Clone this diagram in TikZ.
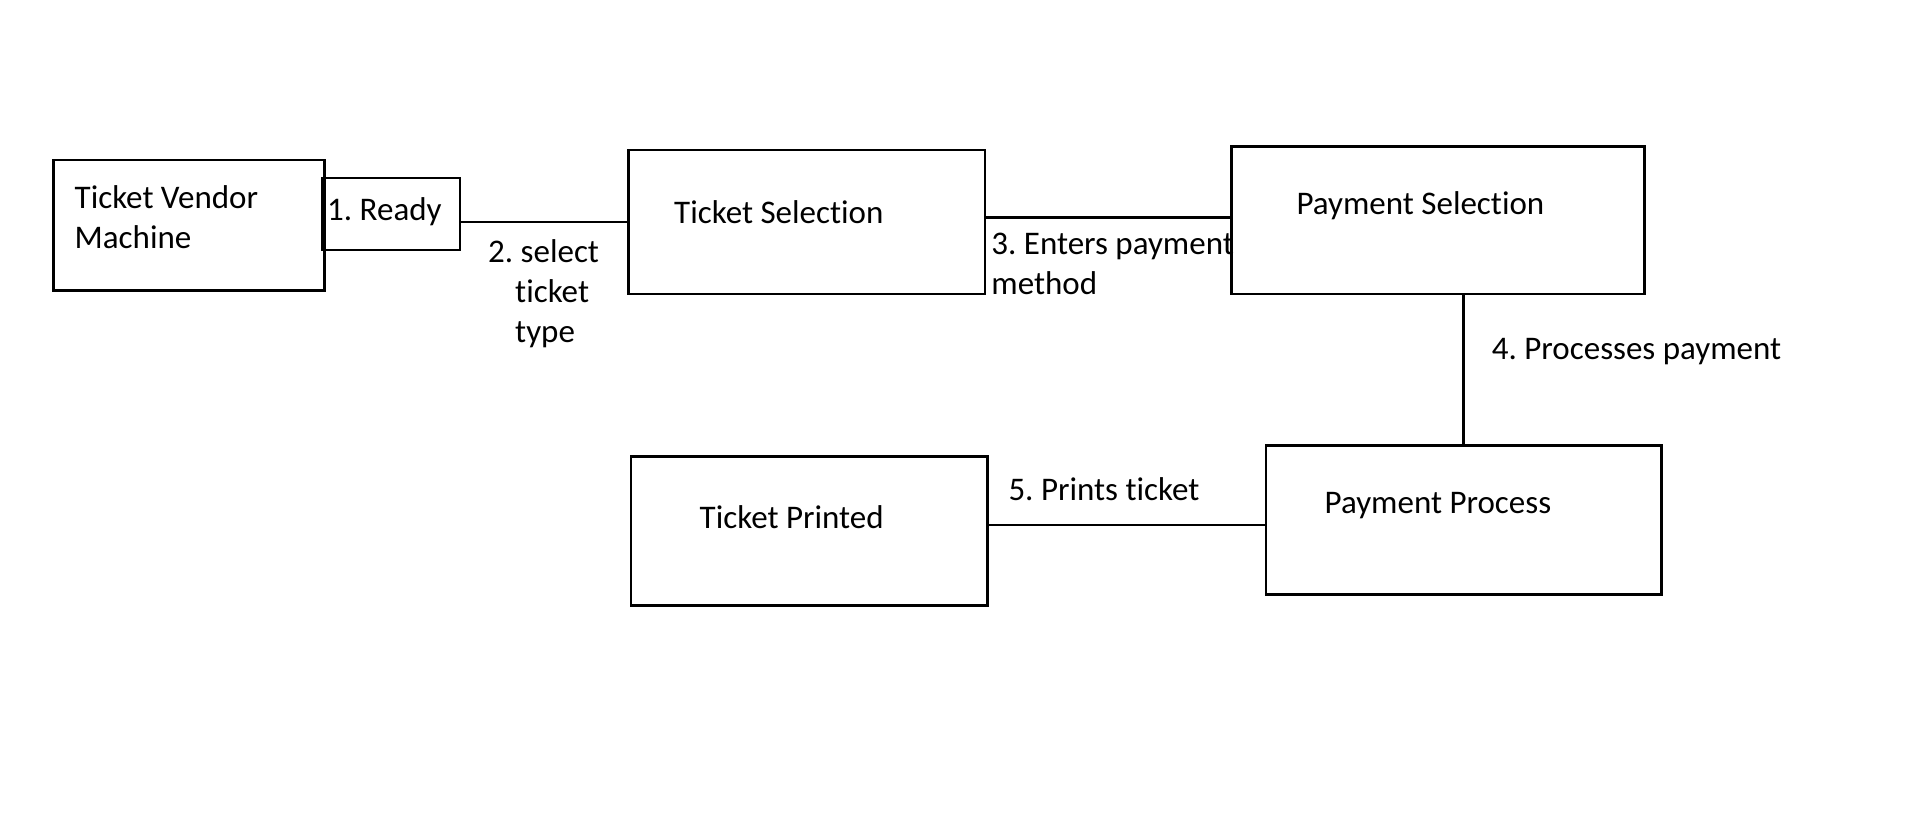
\documentclass[tikz,border=0pt]{standalone}
\usepackage{fontspec}
\setmainfont[Ligatures={NoCommon}]{Carlito}
\frenchspacing
\begin{document}
\begin{tikzpicture}[x=1pt,y=-1pt,
  box/.style={draw=black, line width=2.5pt, anchor=north west, inner sep=0pt, outer sep=0pt},
  lbl/.style={anchor=west, inner sep=0pt, font=\fontsize{33}{40}\selectfont, align=left},
  conn/.style={draw=black, line width=2.5pt}]
\useasboundingbox (0,0) rectangle (1914,822);
\fill[white] (0,0) rectangle (1914,822);
% boxes
\node[box, minimum width=271pt, minimum height=130.5pt] (tvm) at (53.7,160) {};
\node[box, minimum width=138pt, minimum height=72pt] (ready) at (322,178) {};
\node[box, minimum width=356.3pt, minimum height=144pt] (ts) at (628.7,150) {};
\node[box, minimum width=412.6pt, minimum height=147.7pt] (ps) at (1231.7,146.5) {};
\node[box, minimum width=395.5pt, minimum height=148.9pt] (pp) at (1265.9,445.6) {};
\node[box, minimum width=356.4pt, minimum height=149pt] (tp) at (631.1,456.5) {};
% texts
\node[lbl] (tvmt) at (74.5,217) {Ticket Vendor\\Machine};
\node[lbl] (readyt) at (327,212) {1. Ready};
\node[lbl] (tst) at (674,212) {Ticket Selection};
\node[lbl] (pst) at (1296.4,206) {Payment Selection};
\node[lbl] (ppt) at (1324.5,505.2) {Payment Process};
\node[lbl] (tpt) at (699.5,517.4) {Ticket Printed};
\node[lbl] (l2) at (488,293.5) {2. select\\\hspace*{27pt}ticket\\\hspace*{27pt}type};
\node[lbl] (l3) at (991.2,264) {3. Enters payment\\method};
\node[lbl] (l4) at (1491.7,351.3) {4. Processes payment};
\node[lbl] (l5) at (1008.3,489.3) {5. Prints ticket};
% connectors
\draw[conn] (ts.west -| ready.east) -- (ts.west);
\draw[conn] ([yshift=3pt]ps.west -| ts.east) -- ([yshift=3pt]ps.west);
\draw[conn] (ps.south -| pp.north) -- (pp.north);
\draw[conn] ([yshift=-5pt]pp.west -| tp.east) -- ([yshift=-5pt]pp.west);
\end{tikzpicture}
\end{document}
